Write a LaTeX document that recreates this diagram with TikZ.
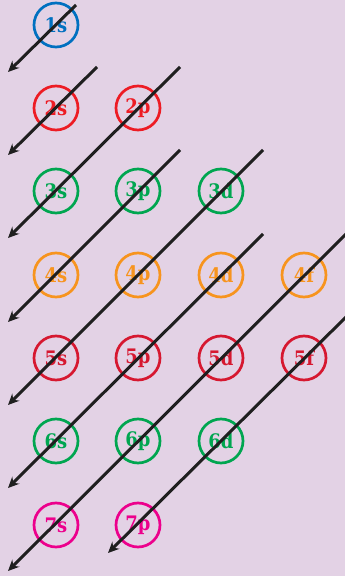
\documentclass[tikz,border=0pt]{standalone}
\usepackage{fontspec}
\setmainfont{DejaVu Serif Condensed}
\usetikzlibrary{arrows.meta}
\definecolor{bgpink}{RGB}{227,210,229}
\definecolor{orbblue}{RGB}{0,112,192}
\definecolor{orbred}{RGB}{237,28,36}
\definecolor{orbgreen}{RGB}{0,166,80}
\definecolor{orborange}{RGB}{247,148,30}
\definecolor{orbcrimson}{RGB}{214,24,48}
\definecolor{orbmagenta}{RGB}{236,0,140}
\begin{document}
\begin{tikzpicture}[
    x=1pt, y=1pt,
    >={Stealth[length=11pt,width=10pt]},
    orb/.style={
        circle,
        draw=#1,
        text=#1,
        line width=2.7pt,
        minimum size=44pt,
        inner sep=0pt,
        font=\fontsize{20}{20}\selectfont\bfseries
    },
    arr/.style={->, line width=3pt, draw=black!88}
]
    \fill[bgpink] (0,0) rectangle (345,576);
    \useasboundingbox (0,0) rectangle (345,576);

    \node[orb=orbblue] (n1s) at (56,551) {1s};

    \node[orb=orbred] (n2s) at (56,468) {2s};
    \node[orb=orbred] (n2p) at (138,468) {2p};

    \node[orb=orbgreen] (n3s) at (56,385) {3s};
    \node[orb=orbgreen] (n3p) at (138,385) {3p};
    \node[orb=orbgreen] (n3d) at (221,385) {3d};

    \node[orb=orborange] (n4s) at (56,301) {4s};
    \node[orb=orborange] (n4p) at (138,301) {4p};
    \node[orb=orborange] (n4d) at (221,301) {4d};
    \node[orb=orborange] (n4f) at (304,301) {4f};

    \node[orb=orbcrimson] (n5s) at (56,218) {5s};
    \node[orb=orbcrimson] (n5p) at (138,218) {5p};
    \node[orb=orbcrimson] (n5d) at (221,218) {5d};
    \node[orb=orbcrimson] (n5f) at (304,218) {5f};

    \node[orb=orbgreen] (n6s) at (56,135) {6s};
    \node[orb=orbgreen] (n6p) at (138,135) {6p};
    \node[orb=orbgreen] (n6d) at (221,135) {6d};

    \node[orb=orbmagenta] (n7s) at (56,51) {7s};
    \node[orb=orbmagenta] (n7p) at (138,51) {7p};

    % filling order, one diagonal per arrow
    \draw[arr] ([shift={(20,20)}]n1s.center) -- ([shift={(-48,-47)}]n1s.center);
    \draw[arr] ([shift={(41,41)}]n2s.center) -- ([shift={(-48,-47)}]n2s.center);
    \draw[arr] ([shift={(42,41)}]n2p.center) -- ([shift={(-48,-47)}]n3s.center);
    \draw[arr] ([shift={(42,41)}]n3p.center) -- ([shift={(-48,-47)}]n4s.center);
    \draw[arr] ([shift={(42,41)}]n3d.center) -- ([shift={(-48,-47)}]n5s.center);
    \draw[arr] ([shift={(42,41)}]n4d.center) -- ([shift={(-48,-47)}]n6s.center);
    \draw[arr] ([shift={(42,41)}]n4f.center) -- ([shift={(-48,-46)}]n7s.center);
    \draw[arr] ([shift={(42,41)}]n5f.center) -- ([shift={(-30,-28)}]n7p.center);
\end{tikzpicture}
\end{document}
